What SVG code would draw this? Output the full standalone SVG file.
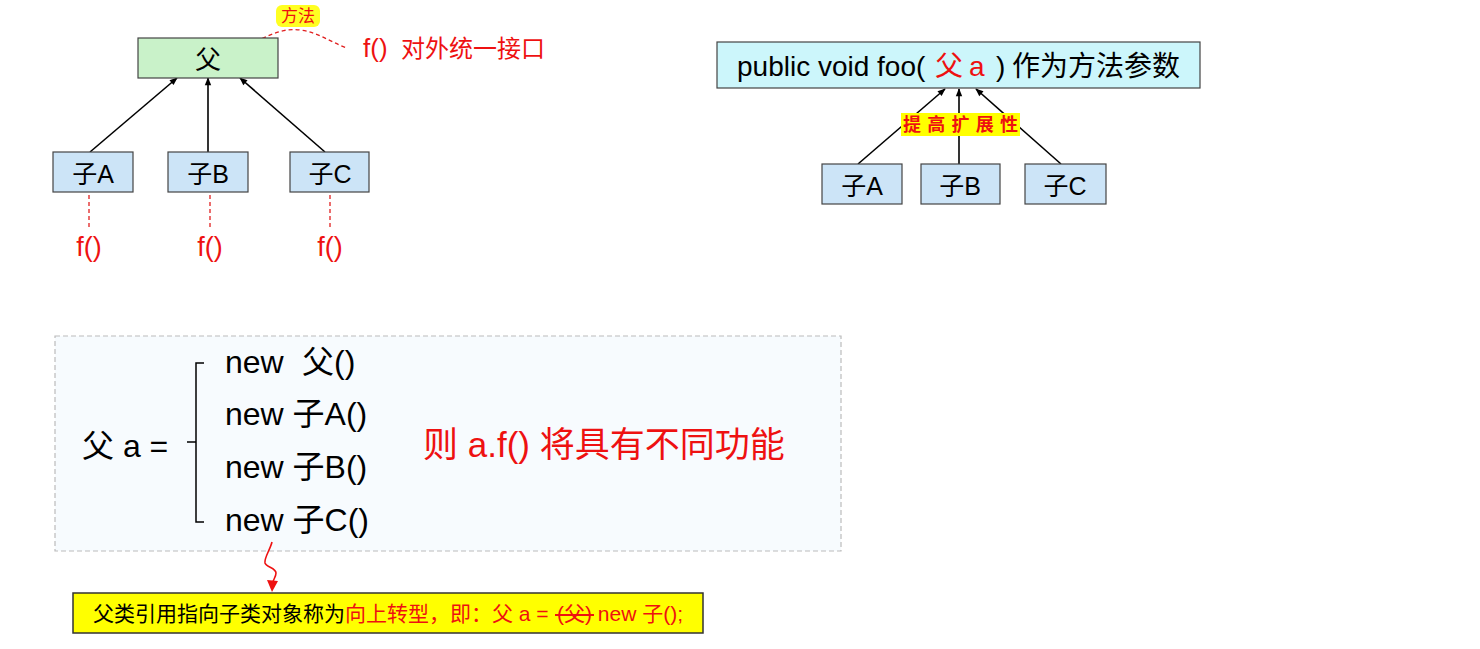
<svg xmlns="http://www.w3.org/2000/svg" width="1480" height="649" viewBox="0 0 1480 649">
<style>
text{font-family:"Liberation Sans","Noto Sans CJK SC",sans-serif;}
.box{stroke:#444;stroke-width:1.2;}
.green{fill:#c9f2c9;}
.blue{fill:#cce4f7;}
.cyan{fill:#ccf6fb;}
.conn{stroke:#000;stroke-width:1.6;fill:none;marker-end:url(#ah);}
.rdash{stroke:#e02020;stroke-width:1.3;stroke-dasharray:4,3;fill:none;}
.red{fill:#ee1111;}
.blk{fill:#000;}
</style>
<defs>
<marker id="ah" viewBox="0 0 10 10" refX="9" refY="5" markerWidth="9" markerHeight="8" orient="auto" markerUnits="userSpaceOnUse">
<path d="M0,1 L10,5 L0,9 Z" fill="#000"/>
</marker>
</defs>
<rect width="1480" height="649" fill="#fff"/>

<!-- bottom dashed panel -->
<rect id="panel" x="55" y="336" width="786" height="215" fill="#f7fbfe" stroke="#bbb" stroke-width="1.2" stroke-dasharray="5,3"/>

<g id="connectors">
<line class="conn" x1="90" y1="152" x2="177" y2="78"/>
<line class="conn" x1="208" y1="152" x2="208" y2="78"/>
<line class="conn" x1="325" y1="152" x2="240" y2="78"/>
<line class="rdash" x1="89" y1="188" x2="89" y2="228"/>
<line class="rdash" x1="210" y1="188" x2="210" y2="228"/>
<line class="rdash" x1="330" y1="188" x2="330" y2="228"/>
<path class="rdash" d="M237,51 C262,39 280,27 300,30 C318,32 330,42 347,48"/>
<line class="conn" x1="858" y1="164" x2="945" y2="89"/>
<line class="conn" x1="959" y1="164" x2="959" y2="89"/>
<line class="conn" x1="1061" y1="164" x2="976" y2="89"/>
<path d="M272,542 C270,550 264,558 265,563 C266,567 276,568 276,573 C276,577 273,580 273,582" fill="none" stroke="#ee1111" stroke-width="1.6"/>
<path d="M267,580 L278,581 L272,592 Z" fill="#ee1111"/>
</g>

<g id="parent">
<rect class="box green" x="138" y="38" width="140" height="40"/>
<text x="208" y="69" font-size="26" text-anchor="middle" class="blk">父</text>
</g>
<g id="childA">
<rect class="box blue" x="53" y="152" width="80" height="40"/>
<text x="93" y="183" font-size="25" text-anchor="middle" class="blk">子A</text>
</g>
<g id="childB">
<rect class="box blue" x="168" y="152" width="80" height="40"/>
<text x="208" y="183" font-size="25" text-anchor="middle" class="blk">子B</text>
</g>
<g id="childC">
<rect class="box blue" x="290" y="152" width="79" height="40"/>
<text x="330" y="183" font-size="25" text-anchor="middle" class="blk">子C</text>
</g>
<g id="fA"><text x="89" y="256" font-size="27" text-anchor="middle" class="red">f()</text></g>
<g id="fB"><text x="210" y="256" font-size="27" text-anchor="middle" class="red">f()</text></g>
<g id="fC"><text x="330" y="256" font-size="27" text-anchor="middle" class="red">f()</text></g>

<g id="methodLabel">
<rect x="276" y="5" width="44" height="22" rx="6" fill="#ffff22"/>
<text x="298" y="22" font-size="17" text-anchor="middle" class="red">方法</text>
</g>
<g id="interfaceLabel">
<text y="57" class="red"><tspan x="363" font-size="26">f()</tspan><tspan x="401" font-size="24">对外统一接口</tspan></text>
</g>

<g id="fooBox">
<rect class="box cyan" x="717" y="42" width="483" height="46"/>
<text y="76" font-size="28" class="blk"><tspan x="737">public void foo(</tspan><tspan x="935" class="red">父</tspan><tspan x="969" class="red">a</tspan><tspan x="996">)</tspan><tspan x="1012" textLength="168">作为方法参数</tspan></text>
</g>
<g id="rChildA">
<rect class="box blue" x="822" y="164" width="80" height="40"/>
<text x="862" y="195" font-size="25" text-anchor="middle" class="blk">子A</text>
</g>
<g id="rChildB">
<rect class="box blue" x="921" y="164" width="79" height="40"/>
<text x="960" y="195" font-size="25" text-anchor="middle" class="blk">子B</text>
</g>
<g id="rChildC">
<rect class="box blue" x="1025" y="164" width="81" height="40"/>
<text x="1065" y="195" font-size="25" text-anchor="middle" class="blk">子C</text>
</g>
<g id="extLabel">
<rect x="901" y="113" width="119" height="23" fill="#ffff00"/>
<text x="903" y="131" font-size="18" font-weight="bold" class="red" textLength="115" lengthAdjust="spacing">提 高 扩 展 性</text>
</g>

<g id="assign">
<text x="82" y="457" font-size="32" class="blk">父 a =</text>
<path d="M204,363 L196,363 L196,442 L187,442 M196,442 L196,522 L204,522" fill="none" stroke="#000" stroke-width="1.5"/>
<text x="225" y="373" font-size="32" class="blk">new <tspan x="302">父()</tspan></text>
<text x="225" y="425" font-size="32" class="blk">new 子A()</text>
<text x="225" y="478" font-size="32" class="blk">new 子B()</text>
<text x="225" y="531" font-size="32" class="blk">new 子C()</text>
</g>
<g id="result">
<text x="423" y="457" font-size="35" class="red">则 a.f() 将具有不同功能</text>
</g>

<g id="upcast">
<rect x="73" y="593" width="630" height="40" fill="#ffff00" stroke="#333" stroke-width="1.5"/>
<text x="93" y="621" font-size="21" class="blk">父类引用指向子类对象称为<tspan class="red">向上转型，即：父 a = </tspan><tspan x="557" class="red">(父)</tspan><tspan class="red"> new 子();</tspan></text>
<line x1="555" y1="615" x2="594" y2="615" stroke="#ee1111" stroke-width="2"/>
</g>
</svg>
